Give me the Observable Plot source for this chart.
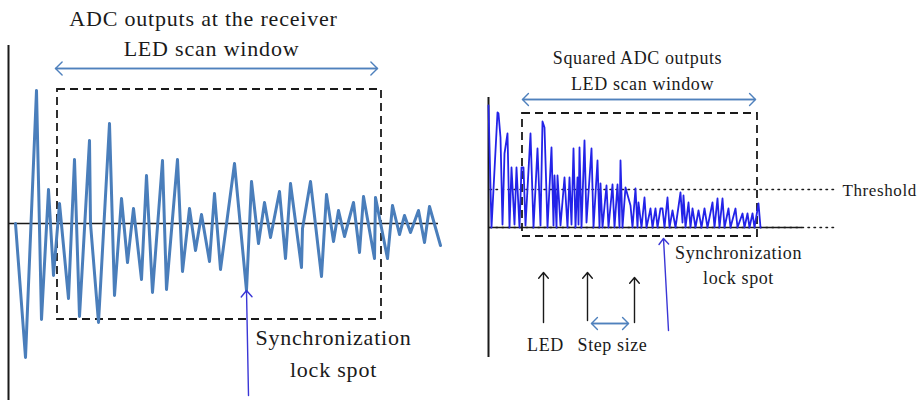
<!DOCTYPE html>
<html><head><meta charset="utf-8">
<script src="https://cdn.jsdelivr.net/npm/d3@7"></script>
<script src="https://cdn.jsdelivr.net/npm/@observablehq/plot@0.6"></script>
<style>
body{margin:0;background:#fff;}
#wrap{display:flex;width:924px;height:404px;overflow:hidden;}
</style></head><body><div id="wrap"></div>
<script>
// ---------- Data ----------
// Left: ADC outputs at the receiver (time in samples, amplitude)
const adcTime = [7,17,28,33,40,45,51,60,66,71, 81,82,90,101,106,113,119,125,133,138,
  144,154,158,169,174,181,187,193,201,206, 212,226,238,243,250,256,262,271,277,282,
  293,294,302,313,318,325,330,336,345,351, 355,366,367,379,384,391,396,402,410,416, 421,432];
const adcValue = [0,-1.34,1.33,-0.96,0.34,-0.52,0.20,-0.75,0.64,-0.93, 0.83,0,-0.99,1.00,-0.72,0.25,-0.39,0.15,-0.56,0.48,
  -0.69,0.63,-0.66,0.64,-0.48,0.15,-0.27,0.09,-0.38,0.30, -0.46,0.60,-0.67,0.42,-0.20,0.21,-0.14,0.32,-0.35,0.40,
  -0.44,-0.05,0.42,-0.53,0.29,-0.18,0.13,-0.13,0.21,-0.29, 0.27,-0.35,0.26,-0.35,0.18,-0.11,0.08,-0.09,0.13,-0.19, 0.17,-0.22];

// Right: squared ADC outputs
const sqTime = [0,3,9,10,12,14,16,19,21,23, 26,28,31,33,35,37,42,45,49,52,
  54,56,59,63,65,66,68,69,72,76, 79,81,83,85,87,89,90,91,93,96,
  98,103,105,109,111,112,114,118,120,124, 126,129,131,132,134,137,142,144,147,149,
  150,153,156,158,161,162,164,167,169,172, 174,176,179,181,184,187,192,194,195,197,
  200,202,204,207,210,213,216,219,224,226, 229,231,234,236,240,242,247,249,254,256,
  259,261,264,266,270,272];
const sqValue = [12.2,0,11.5,11.4,9.0,0.3,7.4,9.4,0,6.0, 0.3,6.0,0,6.0,6.0,0.2,9.4,0,7.9,0.2,
  10.6,10.0,0,8.0,0.2,5.2,0,5.2,0.2,5.0, 0,5.0,0.3,7.9,0,5.0,0.3,8.0,0,8.7,
  0.5,7.9,0,6.7,0,4.4,0,4.2,0,4.3, 0,4.3,0,6.7,0,4.0,2.2,0,3.9,0,
  2.5,0,3.0,0,1.4,1.9,0,1.9,0,1.9, 1.9,0,3.0,0,1.7,0,3.5,0.5,3.2,0,
  2.5,0,1.9,0,1.7,0,1.9,0,2.5,0, 2.9,0,2.9,0,1.9,0,1.9,0,1.4,0,
  1.4,0,1.4,0,2.4,0];
const threshold = 3.8;

// Annotation texts
const leftTexts = ["ADC outputs at the receiver", "LED scan window", "Synchronization", "lock spot"];
const rightTexts = ["Squared ADC outputs", "LED scan window", "Threshold", "Synchronization", "lock spot", "LED", "Step size"];

// ---------- Layout (annotation geometry in each panel's data units) ----------
const L = {
  axis: {x: 0, y1: -1.77, y2: 1.78},
  zero: {x1: 0, x2: 430},
  box: [{x1: 49, x2: 373, y1: -0.96, y2: 1.34}],
  scan: [{x1: 47, x2: 369, y: 1.55}],
  lock: [{x1: 240, y1: -1.72, x2: 238, y2: -0.67}],
  labels: [
    {x: 195, y: 1.98, t: leftTexts[0]},
    {x: 203, y: 1.68, t: leftTexts[1]},
    {x: 325, y: -1.21, t: leftTexts[2]},
    {x: 325, y: -1.53, t: leftTexts[3]}
  ]
};
const R = {
  axis: {x: 0, y1: -13, y2: 13},
  base: {x1: 0, x2: 314},
  dotted: {x1: 2, x2: 349},
  box: [{x1: 34, x2: 269, y1: -0.9, y2: 11.4}],
  scan: [{x1: 34, x2: 267, y: 12.8}, {x1: 103, x2: 140, y: -9.6}],
  led: [{x: 55, y1: -9.5, y2: -4.5}, {x: 99, y1: -9.3, y2: -4.5}, {x: 146, y1: -9.5, y2: -5.0}],
  lock: [{x1: 180, y1: -10.3, x2: 175, y2: -1.1}],
  centered: [
    {x: 149, y: 16.4, t: rightTexts[0]},
    {x: 154, y: 13.8, t: rightTexts[1]},
    {x: 250, y: -3.1, t: rightTexts[3]},
    {x: 250, y: -5.6, t: rightTexts[4]},
    {x: 57, y: -12.3, t: rightTexts[5]},
    {x: 124, y: -12.3, t: rightTexts[6]}
  ],
  thresholdLabel: [{x: 354, y: 3.2, t: rightTexts[2]}]
};

const serif = "'Liberation Serif','Times New Roman',serif";
const ink = "#1a1a1a";
const steel = "#4f81bd";
const lockBlue = "#3a36d6";

function doubleArrow(data, opts) {
  return [
    Plot.arrow(data, {x1: "x1", x2: "x2", y1: "y", y2: "y", ...opts}),
    Plot.arrow(data, {x1: "x2", x2: "x1", y1: "y", y2: "y", ...opts})
  ];
}

const left = Plot.plot({
  width: 470, height: 404, margin: 0,
  x: {domain: [-8, 462], range: [0, 470], axis: null},
  y: {domain: [-1.81, 2.23], range: [404, 0], axis: null},
  style: {fontFamily: serif, background: "white", overflow: "visible", letterSpacing: "0.8px"},
  marks: [
    Plot.ruleX([L.axis.x], {y1: L.axis.y1, y2: L.axis.y2, stroke: ink, strokeWidth: 2}),
    Plot.ruleY([0], {x1: L.zero.x1, x2: L.zero.x2, stroke: ink, strokeWidth: 1.5}),
    Plot.rect(L.box, {x1: "x1", x2: "x2", y1: "y1", y2: "y2", fill: "none", stroke: ink, strokeWidth: 1.8, strokeDasharray: "8,5"}),
    Plot.line(adcTime, {x: adcTime, y: adcValue, stroke: "#4a7ebb", strokeWidth: 3}),
    ...doubleArrow(L.scan, {stroke: steel, strokeWidth: 1.4, headLength: 10, headAngle: 90}),
    Plot.arrow(L.lock, {x1: "x1", y1: "y1", x2: "x2", y2: "y2", stroke: lockBlue, strokeWidth: 1.4, headLength: 9, headAngle: 80}),
    Plot.text(L.labels, {x: "x", y: "y", text: "t", fontSize: 22, fill: ink, lineAnchor: "bottom", textAnchor: "middle"})
  ]
});

const right = Plot.plot({
  width: 454, height: 404, margin: 0,
  x: {domain: [-18, 436], range: [0, 454], axis: null},
  y: {domain: [-17.7, 22.7], range: [404, 0], axis: null},
  style: {fontFamily: serif, background: "white", overflow: "visible", letterSpacing: "0.6px"},
  marks: [
    Plot.ruleY([threshold, 0], {x1: R.dotted.x1, x2: R.dotted.x2, stroke: ink, strokeWidth: 1.5, strokeDasharray: "1.5,4.5", strokeLinecap: "round"}),
    Plot.ruleX([R.axis.x], {y1: R.axis.y1, y2: R.axis.y2, stroke: ink, strokeWidth: 2}),
    Plot.ruleY([0], {x1: R.base.x1, x2: R.base.x2, stroke: ink, strokeWidth: 1.5}),
    Plot.rect(R.box, {x1: "x1", x2: "x2", y1: "y1", y2: "y2", fill: "none", stroke: ink, strokeWidth: 1.8, strokeDasharray: "8,5"}),
    Plot.line(sqTime, {x: sqTime, y: sqValue, stroke: "#2323e8", strokeWidth: 1.8}),
    ...doubleArrow(R.scan, {stroke: steel, strokeWidth: 1.4, headLength: 9, headAngle: 90}),
    Plot.arrow(R.led, {x1: "x", x2: "x", y1: "y1", y2: "y2", stroke: ink, strokeWidth: 1.4, headLength: 8, headAngle: 80}),
    Plot.arrow(R.lock, {x1: "x1", y1: "y1", x2: "x2", y2: "y2", stroke: lockBlue, strokeWidth: 1.4, headLength: 8, headAngle: 80}),
    Plot.text(R.centered, {x: "x", y: "y", text: "t", fontSize: 18, fill: ink, lineAnchor: "bottom", textAnchor: "middle"}),
    Plot.text(R.thresholdLabel, {x: "x", y: "y", text: "t", fontSize: 17, fill: ink, lineAnchor: "bottom", textAnchor: "start"})
  ]
});

document.getElementById("wrap").append(left, right);
</script>
</body></html>
